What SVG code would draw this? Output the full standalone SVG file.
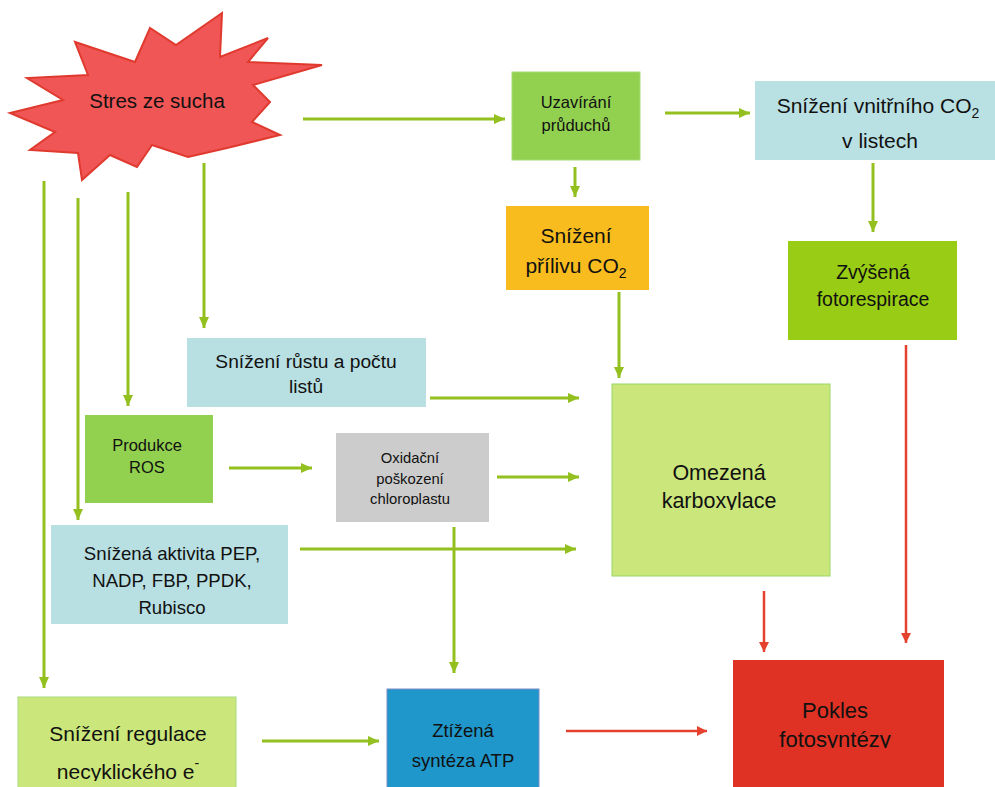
<svg xmlns="http://www.w3.org/2000/svg" width="995" height="787" viewBox="0 0 995 787">
<style>
text{font-family:"Liberation Sans","Noto Sans",Arial,sans-serif;fill:#111;text-anchor:middle}
.g{stroke:#93C01F;stroke-width:3;fill:none;marker-end:url(#ag)}
.r{stroke:#E5412F;stroke-width:2.5;fill:none;marker-end:url(#ar)}
</style>
<defs>
<marker id="ag" markerUnits="userSpaceOnUse" markerWidth="11" markerHeight="10" refX="11" refY="5" orient="auto"><path d="M0,0 L11,5 L0,10 z" fill="#93C01F"/></marker>
<marker id="ar" markerUnits="userSpaceOnUse" markerWidth="10" markerHeight="10" refX="10" refY="5" orient="auto"><path d="M0,0 L10,5 L0,10 z" fill="#E5412F"/></marker>
<clipPath id="cOx"><rect x="336" y="433" width="153" height="72"/></clipPath>
<clipPath id="cOm"><rect x="612" y="384" width="218" height="126"/></clipPath>
<clipPath id="cPo"><rect x="733" y="660" width="211" height="88"/></clipPath>
<clipPath id="cRe"><rect x="18" y="697" width="218" height="84"/></clipPath>
</defs>

<g id="connectors">
<path class="g" d="M303,119 H505"/>
<path class="g" d="M665,113 H750"/>
<path class="g" d="M575,167 V197"/>
<path class="g" d="M873,163 V232"/>
<path class="g" d="M619,292 V378"/>
<path class="g" d="M204,163 V328"/>
<path class="g" d="M128,192 V406"/>
<path class="g" d="M78,198 V520"/>
<path class="g" d="M44,181 V688"/>
<path class="g" d="M430,398 H579"/>
<path class="g" d="M229,468 H312"/>
<path class="g" d="M497,477 H579"/>
<path class="g" d="M300,549 H576"/>
<path class="g" d="M454,527 V673"/>
<path class="g" d="M262,741 H379"/>
<path class="r" d="M906,345 V643"/>
<path class="r" d="M764,591 V652"/>
<path class="r" d="M566,731 H707"/>
</g>

<g id="stres">
<polygon points="222,13 176,45 150,28 135,62 75,42 88,75 27,78 63,100 10,113 55,132 30,150 78,153 82,180 110,155 137,167 152,145 188,157 227,148 280,135 252,122 270,102 253,85 322,65 248,62 268,38 220,57" fill="#F05656" stroke="#E03A2F" stroke-width="2" stroke-linejoin="miter"/>
<text x="157" y="108" font-size="20.5">Stres ze sucha</text>
</g>

<g id="uzavirani">
<rect x="512" y="72" width="128" height="88" fill="#92D050" stroke="#A6DA75" stroke-width="1"/>
<text x="576" y="108" font-size="16.5">Uzavírání</text>
<text x="576" y="131" font-size="16.5">průduchů</text>
</g>

<g id="snizeni-vnitrniho">
<rect x="755" y="81" width="240" height="79" fill="#B9E0E3"/>
<text x="878" y="113" font-size="21">Snížení vnitřního CO<tspan font-size="14" dy="5">2</tspan></text>
<text x="880" y="148" font-size="21">v listech</text>
</g>

<g id="snizeni-prilivu">
<rect x="506" y="206" width="143" height="84" fill="#F9BC1E"/>
<text x="576" y="243" font-size="21">Snížení</text>
<text x="576" y="273" font-size="21">přílivu CO<tspan font-size="14" dy="5">2</tspan></text>
</g>

<g id="zvysena">
<rect x="788" y="241" width="169" height="99" fill="#99CC14"/>
<text x="873" y="279" font-size="19.5">Zvýšená</text>
<text x="873" y="306" font-size="19.5">fotorespirace</text>
</g>

<g id="snizeni-rustu">
<rect x="187" y="338" width="239" height="69" fill="#B8DFE2"/>
<text x="306" y="368" font-size="19.2">Snížení růstu a počtu</text>
<text x="306" y="393" font-size="19.2">listů</text>
</g>

<g id="produkce-ros">
<rect x="85" y="415" width="128" height="88" fill="#92D050"/>
<text x="147" y="451" font-size="16.5">Produkce</text>
<text x="147" y="473" font-size="16.5">ROS</text>
</g>

<g id="oxidacni">
<rect x="336" y="433" width="153" height="89" fill="#CCCCCC"/>
<g clip-path="url(#cOx)">
<text x="410" y="463" font-size="14.8">Oxidační</text>
<text x="410" y="484" font-size="14.8">poškození</text>
<text x="410" y="504" font-size="14.8">chloroplastu</text>
</g>
</g>

<g id="snizena-aktivita">
<rect x="51" y="525" width="237" height="99" fill="#B8DFE2"/>
<text x="172" y="560" font-size="18.6">Snížená aktivita PEP,</text>
<text x="172" y="587" font-size="18.6">NADP, FBP, PPDK,</text>
<text x="172" y="614" font-size="18.6">Rubisco</text>
</g>

<g id="omezena">
<rect x="612" y="384" width="218" height="192" fill="#CBE67A" stroke="#9AD86A" stroke-width="1"/>
<g clip-path="url(#cOm)">
<text x="719" y="480" font-size="21.5">Omezená</text>
<text x="719" y="508" font-size="21.5">karboxylace</text>
</g>
</g>

<g id="snizeni-regulace">
<rect x="18" y="697" width="218" height="95" fill="#CBE67A" stroke="#A8DC80" stroke-width="1"/>
<g clip-path="url(#cRe)">
<text x="128" y="741" font-size="21">Snížení regulace</text>
<text x="128" y="779" font-size="21">necyklického e<tspan font-size="14" dy="-11">-</tspan></text>
</g>
</g>

<g id="ztizena">
<rect x="387" y="689" width="152" height="110" fill="#1F97CA" stroke="#7A8EC8" stroke-width="1"/>
<text x="463" y="737" font-size="18.5">Ztížená</text>
<text x="463" y="767" font-size="18.5">syntéza ATP</text>
</g>

<g id="pokles">
<rect x="733" y="660" width="211" height="140" fill="#DF3224"/>
<g clip-path="url(#cPo)">
<text x="835" y="718" font-size="22">Pokles</text>
<text x="835" y="747" font-size="22">fotosyntézy</text>
</g>
</g>
</svg>
